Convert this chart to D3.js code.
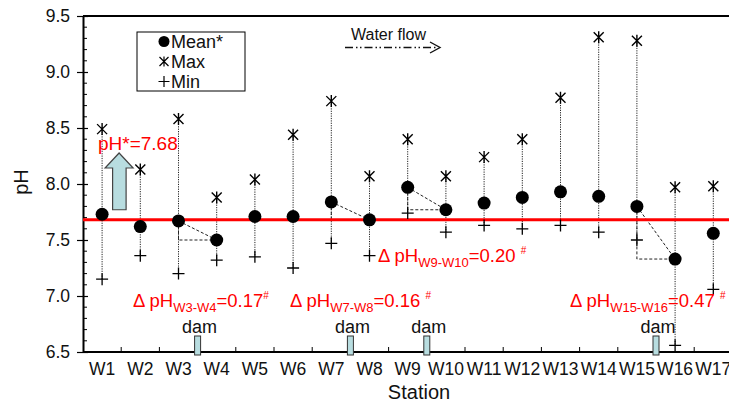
<!DOCTYPE html>
<html>
<head>
<meta charset="utf-8">
<script src="https://cdn.jsdelivr.net/npm/d3@7/dist/d3.min.js"></script>
<style>
  html, body { margin: 0; padding: 0; background: #fff; }
  svg { display: block; font-family: "Liberation Sans", Arial, Helvetica, sans-serif; }
</style>
</head>
<body>
<svg id="chart" width="729" height="408"></svg>
<script>
// Stations along the river, upstream to downstream
const stations = ["W1","W2","W3","W4","W5","W6","W7","W8","W9","W10","W11","W12","W13","W14","W15","W16","W17"];
// pH statistics per station
const meanPH = [7.73, 7.62, 7.67, 7.50, 7.71, 7.71, 7.84, 7.68, 7.97, 7.77, 7.83, 7.88, 7.93, 7.89, 7.80, 7.33, 7.56];
const maxPH  = [8.49, 8.13, 8.58, 7.88, 8.04, 8.44, 8.74, 8.07, 8.40, 8.07, 8.24, 8.40, 8.77, 9.31, 9.28, 7.97, 7.98];
const minPH  = [7.15, 7.36, 7.20, 7.32, 7.35, 7.25, 7.47, 7.36, 7.74, 7.57, 7.63, 7.60, 7.63, 7.57, 7.50, 6.56, 7.06];
// Overall mean pH
const overallMean = 7.68;
// Dams lie between these station pairs; pH drop across each dam
const damPairs = [["W3","W4"], ["W7","W8"], ["W9","W10"], ["W15","W16"]];
const deltaPH = [0.17, 0.16, 0.20, 0.47];
// Axis ticks
const yMajorTicks = [6.5, 7.0, 7.5, 8.0, 8.5, 9.0, 9.5];

const W = 729, H = 408;
const plotLeft = 83, plotTop = 16, plotBottom = 352, step = 38.2;
const svg = d3.select("#chart");

const x = d3.scaleBand().domain(stations).range([plotLeft, plotLeft + step * stations.length]).padding(0);
const cx = s => x(s) + x.bandwidth() / 2;
const y = d3.scaleLinear().domain([6.5, 9.5]).range([plotBottom, plotTop]);

const rows = stations.map((s, i) => ({ s, mean: meanPH[i], max: maxPH[i], min: minPH[i] }));
const meanOf = s => meanPH[stations.indexOf(s)];

// ---- Y axis ----
const yAxis = d3.axisLeft(y).tickValues(yMajorTicks).tickFormat(d3.format(".1f"))
  .tickSizeInner(6).tickSizeOuter(0).tickPadding(7);
const gy = svg.append("g").attr("transform", `translate(${plotLeft},0)`).call(yAxis);
gy.select(".domain").attr("stroke", "#000").attr("stroke-width", 2);
gy.selectAll(".tick line").attr("stroke", "#000").attr("stroke-width", 1.2).attr("x2", -6).attr("x1", 5);
gy.selectAll(".tick text").attr("font-size", 17.5).attr("fill", "#111")
  .attr("font-family", "Liberation Sans, Arial, sans-serif");
// minor ticks every 0.1, inside
const minor = d3.range(65, 96).map(v => v / 10).filter(v => Math.round(v * 10) % 5 !== 0);
svg.append("g").selectAll("line").data(minor).join("line")
  .attr("x1", plotLeft).attr("x2", plotLeft + 4)
  .attr("y1", d => y(d)).attr("y2", d => y(d))
  .attr("stroke", "#000").attr("stroke-width", 1);

// top frame line
svg.append("line").attr("x1", plotLeft).attr("x2", W).attr("y1", y(9.5)).attr("y2", y(9.5))
  .attr("stroke", "#000").attr("stroke-width", 2);

// ---- X axis ----
const xAxis = d3.axisBottom(x).tickSize(0).tickPadding(11);
const gx = svg.append("g").attr("transform", `translate(0,${plotBottom})`).call(xAxis);
gx.select(".domain").remove();
gx.selectAll(".tick text").attr("font-size", 17.5).attr("fill", "#111")
  .attr("font-family", "Liberation Sans, Arial, sans-serif");
svg.append("line").attr("x1", plotLeft).attr("x2", W).attr("y1", plotBottom).attr("y2", plotBottom)
  .attr("stroke", "#000").attr("stroke-width", 2);
// ticks at station boundaries, pointing inward
svg.append("g").selectAll("line").data(stations.slice(1)).join("line")
  .attr("x1", d => x(d)).attr("x2", d => x(d))
  .attr("y1", plotBottom).attr("y2", plotBottom - 5)
  .attr("stroke", "#000").attr("stroke-width", 1);

// axis titles
svg.append("text").attr("x", 419).attr("y", 399).attr("text-anchor", "middle")
  .attr("font-size", 20).attr("fill", "#111").text("Station");
svg.append("text").attr("transform", `translate(28,${y(8.0) - 2}) rotate(-90)`)
  .attr("text-anchor", "middle").attr("font-size", 20).attr("fill", "#111").text("pH");

// ---- Range whiskers (max to min) ----
svg.append("g").selectAll("line").data(rows).join("line")
  .attr("x1", d => cx(d.s)).attr("x2", d => cx(d.s))
  .attr("y1", d => y(d.max)).attr("y2", d => y(d.min))
  .attr("stroke", "#222").attr("stroke-width", 1).attr("stroke-dasharray", "1.2,1.2");

// ---- Mean drop triangles across dams ----
const tri = svg.append("g").attr("fill", "none").attr("stroke", "#222").attr("stroke-width", 1)
  .attr("stroke-dasharray", "3,2");
damPairs.forEach(([a, b]) => {
  const xa = cx(a), xb = cx(b), ya = y(meanOf(a)), yb = y(meanOf(b));
  tri.append("path").attr("d", `M${xa},${ya}L${xb},${yb}`);
  tri.append("path").attr("d", `M${xa},${ya}L${xa},${yb}L${xb},${yb}`);
});

// ---- Overall mean line ----
svg.append("line").attr("x1", plotLeft).attr("x2", W)
  .attr("y1", y(overallMean)).attr("y2", y(overallMean))
  .attr("stroke", "#ff0000").attr("stroke-width", 3);

// ---- Markers ----
const maxPath = "M-5,-5L5,5M-5,5L5,-5M0,-6L0,6";
const minPath = "M-6,0L6,0M0,-6L0,6";
svg.append("g").selectAll("path").data(rows).join("path")
  .attr("transform", d => `translate(${cx(d.s)},${y(d.max)})`)
  .attr("d", maxPath).attr("stroke", "#000").attr("stroke-width", 1.4).attr("fill", "none");
svg.append("g").selectAll("path").data(rows).join("path")
  .attr("transform", d => `translate(${cx(d.s)},${y(d.min)})`)
  .attr("d", minPath).attr("stroke", "#000").attr("stroke-width", 1.3).attr("fill", "none");
svg.append("g").selectAll("circle").data(rows).join("circle")
  .attr("cx", d => cx(d.s)).attr("cy", d => y(d.mean)).attr("r", 6.5).attr("fill", "#000");

// ---- Dams on the x axis ----
damPairs.forEach(([a, b]) => {
  const xm = (cx(a) + cx(b)) / 2;
  svg.append("rect").attr("x", xm - 3).attr("y", plotBottom - 16).attr("width", 6).attr("height", 19)
    .attr("fill", "#b8dde0").attr("stroke", "#333").attr("stroke-width", 1);
  svg.append("text").attr("x", xm + 2).attr("y", plotBottom - 19).attr("text-anchor", "middle")
    .attr("font-size", 18).attr("fill", "#111").text("dam");
});

// ---- Overall mean arrow and label ----
const ax = cx("W1") + 17, aTop = 153, aHead = 168, aBot = y(7.77);
svg.append("path")
  .attr("d", `M${ax},${aTop}L${ax + 14},${aHead}L${ax + 7},${aHead}L${ax + 7},${aBot}L${ax - 6.5},${aBot}L${ax - 6.5},${aHead}L${ax - 14},${aHead}Z`)
  .attr("fill", "#b8dde0").attr("stroke", "#444").attr("stroke-width", 1.2);
svg.append("text").attr("x", 98).attr("y", 150).attr("font-size", 19).attr("fill", "#ff0000")
  .text(`pH*=${overallMean.toFixed(2)}`);

// ---- Delta pH labels ----
const deltaLabelPos = [[133, 307, ""], [290, 307, " "], [378, 262, " "], [570, 307, " "]];
damPairs.forEach(([a, b], i) => {
  const [lx, ly, gap] = deltaLabelPos[i];
  const t = svg.append("text").attr("x", lx).attr("y", ly).attr("fill", "#ff0000").attr("font-size", 18.5)
    .attr("xml:space", "preserve").style("white-space", "pre");
  t.append("tspan").text("Δ pH");
  t.append("tspan").attr("font-size", 13).attr("dy", 5).text(`${a}-${b}`);
  t.append("tspan").attr("dy", -5).text(`=${deltaPH[i].toFixed(2)}${gap}`);
  t.append("tspan").attr("font-size", 10).attr("dy", -8).text("#");
});

// ---- Legend ----
const lg = svg.append("g");
lg.append("rect").attr("x", 137).attr("y", 32).attr("width", 108).attr("height", 59)
  .attr("fill", "#fff").attr("stroke", "#000").attr("stroke-width", 1);
const legendItems = [["Mean*", "mean"], ["Max", "max"], ["Min", "min"]];
legendItems.forEach(([label, kind], i) => {
  const ly = 41.5 + i * 20, lx = 164;
  if (kind === "mean") lg.append("circle").attr("cx", lx).attr("cy", ly).attr("r", 5.5).attr("fill", "#000");
  else lg.append("path").attr("transform", `translate(${lx},${ly})`)
    .attr("d", kind === "max" ? "M-4.5,-4.5L4.5,4.5M-4.5,4.5L4.5,-4.5M0,-5L0,5" : "M-5.5,0L5.5,0M0,-5.5L0,5.5")
    .attr("stroke", "#000").attr("stroke-width", 1.2).attr("fill", "none");
  lg.append("text").attr("x", 171).attr("y", ly).attr("dy", "0.36em")
    .attr("font-size", 18).attr("fill", "#111").text(label);
});

// ---- Water flow direction ----
svg.append("text").attr("x", 351).attr("y", 40).attr("font-size", 16).attr("fill", "#111").text("Water flow");
svg.append("line").attr("x1", 345).attr("x2", 437).attr("y1", 47.5).attr("y2", 47.5)
  .attr("stroke", "#111").attr("stroke-width", 1.5).attr("stroke-dasharray", "8,3,1.5,2.5,1.5,3");
svg.append("path").attr("d", "M430,42L440,47.5L430,53").attr("fill", "none")
  .attr("stroke", "#111").attr("stroke-width", 1.4);
</script>
</body>
</html>
